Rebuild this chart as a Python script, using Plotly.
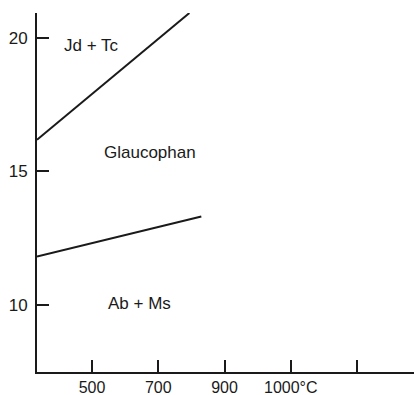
import plotly.graph_objects as go

# Data (x in tick-position units: 1=500, 2=700, 3=900, 4=1000°C, 5=unlabeled)
x_tick_pos = [1, 2, 3, 4, 5]
x_tick_labels = ["500", "700", "900", "1000°C", ""]
y_tick_vals = [10, 15, 20]
y_tick_labels = ["10", "15", "20"]

jd_tc_x = [0.17, 2.47]
jd_tc_y = [16.18, 20.92]
ab_ms_x = [0.17, 2.65]
ab_ms_y = [11.81, 13.31]

region_labels = ["Jd + Tc", "Glaucophan", "Ab + Ms"]
region_x = [0.99, 1.88, 1.71]
region_y = [19.72, 15.69, 10.04]

FONT = "Liberation Sans, Arial, sans-serif"
INK = "#1a1a1a"

fig = go.Figure()
fig.add_trace(go.Scatter(x=jd_tc_x, y=jd_tc_y, mode="lines",
                         line=dict(color=INK, width=2), showlegend=False))
fig.add_trace(go.Scatter(x=ab_ms_x, y=ab_ms_y, mode="lines",
                         line=dict(color=INK, width=2), showlegend=False))

for t, x, y in zip(region_labels, region_x, region_y):
    fig.add_annotation(x=x, y=y, text=t, showarrow=False,
                       font=dict(family=FONT, size=17, color=INK),
                       xanchor="center", yanchor="middle")

fig.update_layout(
    width=414, height=395,
    margin=dict(l=37, r=0, t=13, b=23),
    paper_bgcolor="white", plot_bgcolor="white",
    showlegend=False,
    font=dict(family=FONT, size=16, color=INK),
)
fig.update_xaxes(range=[0.17, 5.86], tickvals=x_tick_pos, ticktext=x_tick_labels,
                 ticks="inside", ticklen=12, tickwidth=1.5, tickcolor=INK,
                 showline=True, linecolor=INK, linewidth=2, automargin=False,
                 showgrid=False, zeroline=False, fixedrange=True,
                 tickfont=dict(family=FONT, size=16, color=INK))
fig.update_yaxes(range=[7.49, 20.92], tickvals=y_tick_vals, ticktext=y_tick_labels,
                 ticks="inside", ticklen=12, tickwidth=1.5, tickcolor=INK,
                 showline=True, linecolor=INK, linewidth=2, automargin=False,
                 ticklabelstandoff=4,
                 showgrid=False, zeroline=False, fixedrange=True,
                 tickfont=dict(family=FONT, size=17, color=INK))

fig.write_html("out.html", config={"displayModeBar": False},
               post_script="document.body.style.margin='0';document.body.style.overflow='hidden';")
